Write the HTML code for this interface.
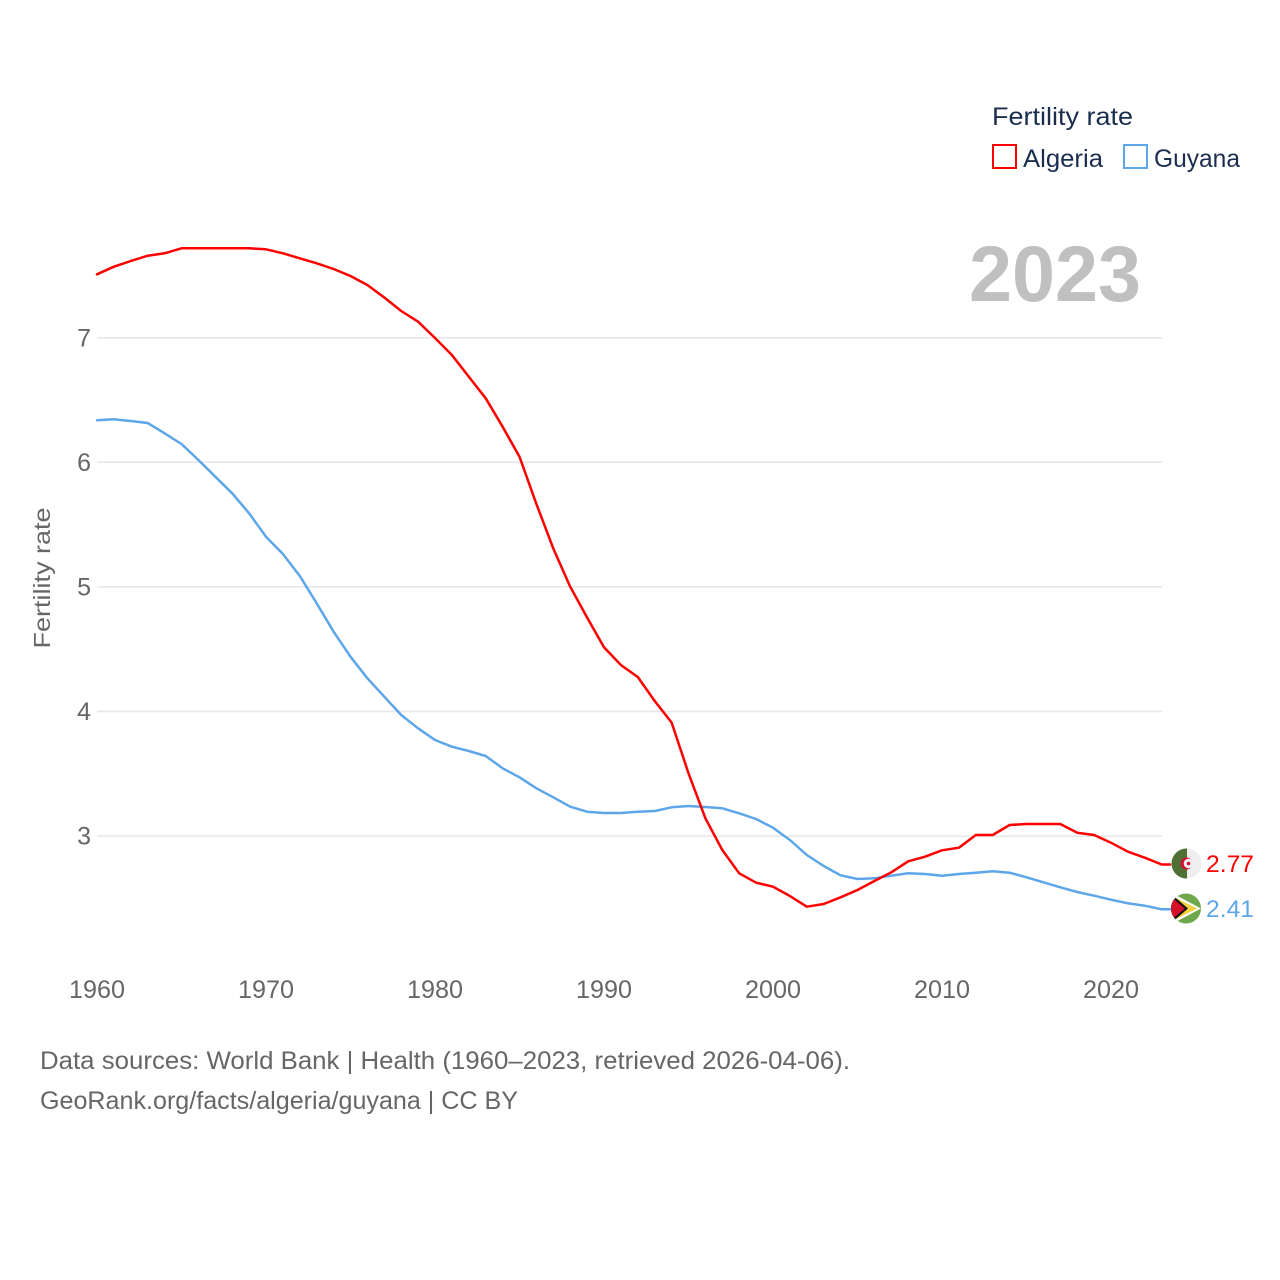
<!DOCTYPE html>
<html>
<head>
<meta charset="utf-8">
<style>
  html, body { margin: 0; padding: 0; background: #ffffff; }
  svg { display: block; }
  text { font-family: "Liberation Sans", sans-serif; }
</style>
</head>
<body>
<svg width="1280" height="1280" viewBox="0 0 1280 1280" xmlns="http://www.w3.org/2000/svg">
  <rect x="0" y="0" width="1280" height="1280" fill="#ffffff"/>

  <!-- Gridlines -->
  <g stroke="#e6e6e6" stroke-width="1.5">
    <line x1="97" y1="337.7" x2="1162" y2="337.7"/>
    <line x1="97" y1="462.3" x2="1162" y2="462.3"/>
    <line x1="97" y1="586.9" x2="1162" y2="586.9"/>
    <line x1="97" y1="711.5" x2="1162" y2="711.5"/>
    <line x1="97" y1="836.1" x2="1162" y2="836.1"/>
  </g>

  <!-- Y tick labels -->
  <g fill="#666666" font-size="25" text-anchor="end">
    <text x="91" y="346.5">7</text>
    <text x="91" y="471">6</text>
    <text x="91" y="595.5">5</text>
    <text x="91" y="720">4</text>
    <text x="91" y="844.5">3</text>
  </g>

  <!-- X tick labels -->
  <g fill="#666666" font-size="25" text-anchor="middle">
    <text x="97" y="998" textLength="56" lengthAdjust="spacingAndGlyphs">1960</text>
    <text x="266" y="998" textLength="56" lengthAdjust="spacingAndGlyphs">1970</text>
    <text x="435" y="998" textLength="56" lengthAdjust="spacingAndGlyphs">1980</text>
    <text x="604" y="998" textLength="56" lengthAdjust="spacingAndGlyphs">1990</text>
    <text x="773" y="998" textLength="56" lengthAdjust="spacingAndGlyphs">2000</text>
    <text x="942" y="998" textLength="56" lengthAdjust="spacingAndGlyphs">2010</text>
    <text x="1111" y="998" textLength="56" lengthAdjust="spacingAndGlyphs">2020</text>
  </g>

  <!-- Y axis title -->
  <text transform="translate(50,578) rotate(-90)" fill="#666666" font-size="23" text-anchor="middle" textLength="141" lengthAdjust="spacingAndGlyphs">Fertility rate</text>

  <!-- Year watermark -->
  <text x="969" y="301" fill="#c0c0c0" font-size="79" font-weight="bold" textLength="172" lengthAdjust="spacingAndGlyphs">2023</text>

  <!-- Guyana line -->
  <polyline fill="none" stroke="#5ea6ea" stroke-width="2.5" stroke-linejoin="round" stroke-linecap="round"
    points="97,420.3 113.9,419.3 130.8,421 147.7,423 164.6,433.3 181.5,444 198.4,460 215.3,476.7 232.2,493.3 249.1,513.3 266,536.7 282.9,554 299.8,576 316.7,603.3 333.6,631.7 350.5,656.7 367.4,678.3 384.3,696.7 401.2,715 418.1,728.3 435,740 451.9,746.7 468.8,751 485.7,756 502.6,768.3 519.5,777.3 536.4,788.3 553.3,797.3 570.2,806.7 587.1,811.7 604,813 620.9,813 637.8,811.7 654.7,811 671.6,807.3 688.5,806 705.4,807 722.3,808.3 739.2,813.3 756.1,819 773,827.7 789.9,840 806.8,855 823.7,866 840.6,875.3 857.5,879 874.4,878.3 891.3,875.7 908.2,873.3 925.1,874 942,875.7 958.9,874 975.8,872.7 992.7,871.3 1009.6,872.7 1026.5,877.3 1043.4,882.3 1060.3,887.3 1077.2,892 1094.1,895.7 1111,899.7 1127.9,903.3 1144.8,905.7 1161.7,909.3 1170,909.3"/>

  <!-- Algeria line -->
  <polyline fill="none" stroke="#ff0000" stroke-width="2.5" stroke-linejoin="round" stroke-linecap="round"
    points="97,274.3 113.9,266.7 130.8,261 147.7,255.7 164.6,253.3 181.5,248.3 198.4,248.3 215.3,248.3 232.2,248.3 249.1,248.3 266,249.3 282.9,253.3 299.8,258.3 316.7,263.3 333.6,269 350.5,276 367.4,285 384.3,297.5 401.2,311 418.1,321.7 435,338 451.9,355 468.8,376.7 485.7,398.3 502.6,426.7 519.5,456.7 536.4,504 553.3,548.5 570.2,586.7 587.1,617.5 604,647.3 620.9,665 637.8,677 654.7,701 671.6,722.5 688.5,773.3 705.4,818.3 722.3,850 739.2,873.3 756.1,882.7 773,886.7 789.9,896 806.8,906.7 823.7,904 840.6,897.3 857.5,890 874.4,881 891.3,872.3 908.2,861.3 925.1,856.7 942,850.3 958.9,847.7 975.8,835 992.7,835 1009.6,825 1026.5,824 1043.4,824 1060.3,824 1077.2,832.7 1094.1,835 1111,842.7 1127.9,851.7 1144.8,857.7 1161.7,864.5 1170,864.5"/>

  <defs>
    <clipPath id="cAlg"><circle cx="1186.5" cy="863.5" r="15"/></clipPath>
    <clipPath id="cGuy"><circle cx="1186" cy="908.5" r="15"/></clipPath>
  </defs>

  <!-- Algeria flag marker -->
  <g clip-path="url(#cAlg)">
    <rect x="1171" y="848" width="16" height="32" fill="#4f6f33"/>
    <rect x="1187" y="848" width="16" height="32" fill="#eeeeee"/>
    <circle cx="1186.5" cy="863.5" r="6" fill="#d21034"/>
    <circle cx="1188.5" cy="863.5" r="4.8" fill="#eeeeee"/>
    <circle cx="1188.5" cy="863.5" r="1.8" fill="#d21034"/>
  </g>

  <!-- Guyana flag marker -->
  <g clip-path="url(#cGuy)">
    <rect x="1170" y="893" width="32" height="32" fill="#6fa84c"/>
    <polygon points="1170,892 1170,925 1201,908.5" fill="#ffffff"/>
    <polygon points="1170,895 1170,922 1197,908.5" fill="#f6d23a"/>
    <polygon points="1170,893 1170,924 1188,908.5" fill="#111111"/>
    <polygon points="1170,896 1170,921 1185,908.5" fill="#d4102a"/>
  </g>

  <!-- End value labels -->
  <text x="1206" y="872" fill="#ff0000" font-size="24" textLength="48" lengthAdjust="spacingAndGlyphs">2.77</text>
  <text x="1206" y="917" fill="#5ea6ea" font-size="24" textLength="48" lengthAdjust="spacingAndGlyphs">2.41</text>

  <!-- Legend -->
  <text x="992" y="125" fill="#1b2d4f" font-size="25" textLength="141" lengthAdjust="spacingAndGlyphs">Fertility rate</text>
  <rect x="993" y="145" width="23" height="23" fill="none" stroke="#ff0000" stroke-width="2"/>
  <text x="1023" y="167" fill="#1b2d4f" font-size="25" textLength="80" lengthAdjust="spacingAndGlyphs">Algeria</text>
  <rect x="1124" y="145" width="23" height="23" fill="none" stroke="#5ea6ea" stroke-width="2"/>
  <text x="1154" y="167" fill="#1b2d4f" font-size="25" textLength="86" lengthAdjust="spacingAndGlyphs">Guyana</text>

  <!-- Footer -->
  <text x="40" y="1069" fill="#666666" font-size="25" textLength="810" lengthAdjust="spacingAndGlyphs">Data sources: World Bank | Health (1960–2023, retrieved 2026-04-06).</text>
  <text x="40" y="1109" fill="#666666" font-size="25" textLength="478" lengthAdjust="spacingAndGlyphs">GeoRank.org/facts/algeria/guyana | CC BY</text>
</svg>
</body>
</html>
